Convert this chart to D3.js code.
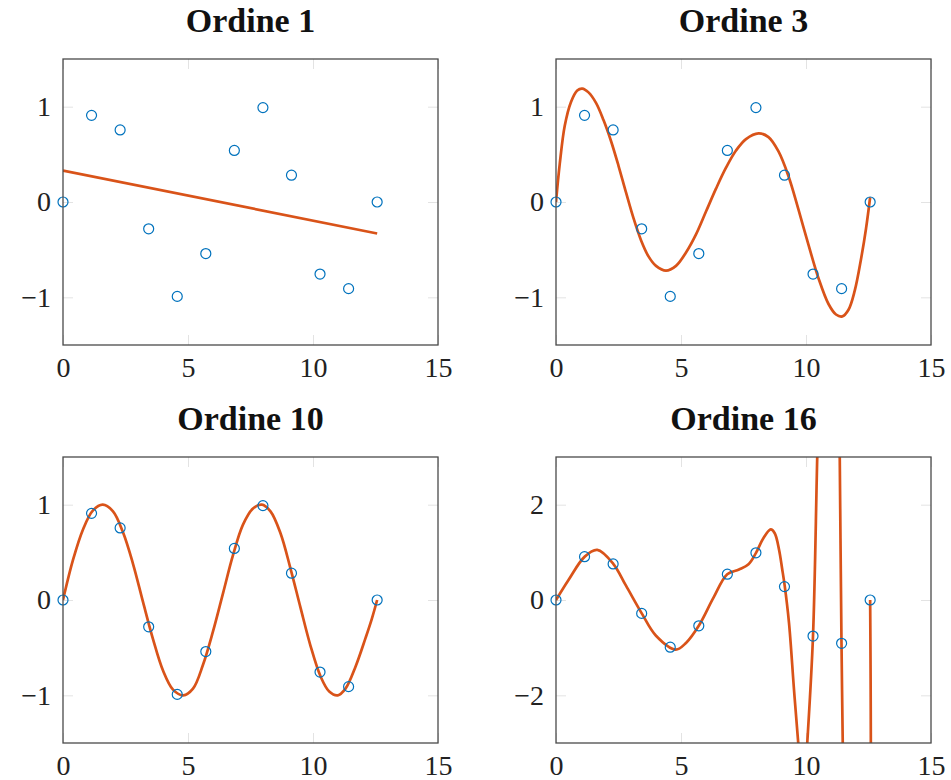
<!DOCTYPE html>
<html>
<head>
<meta charset="utf-8">
<script src="https://cdn.jsdelivr.net/npm/d3@7"></script>
<style>
  body { margin: 0; background: #fff; }
  svg { display: block; }
  .tick line { stroke: #e3e3e3; stroke-width: 1; }
  .tick text { font-family: "Liberation Serif", serif; font-size: 28px; fill: #222; }
  .title { font-family: "Liberation Serif", serif; font-weight: bold; font-size: 34px; fill: #111; }
  .frame { fill: none; stroke: #4a4a4a; stroke-width: 1.3; }
  .fit { fill: none; stroke: #D95319; stroke-width: 2.7; stroke-linejoin: round; }
  .pt { fill: none; stroke: #0072BD; stroke-width: 1.2; }
</style>
</head>
<body>
<svg id="chart" width="951" height="780"></svg>
<script>
// samples
const sampleX = [0, 1.142, 2.285, 3.427, 4.570, 5.712, 6.854, 7.997, 9.139, 10.281, 11.424, 12.566];
const sampleY = [0, 0.909, 0.756, -0.281, -0.990, -0.541, 0.541, 0.990, 0.281, -0.756, -0.909, 0];

// fitted curves
const fit1X = [0, 12.566];
const fit1Y = [0.33, -0.33];

const fit3X = [0, 0.15, 0.35, 0.6, 0.85, 1.05, 1.3, 1.6, 1.9, 2.2, 2.5, 2.8, 3.1, 3.4, 3.7, 4.0, 4.4, 4.8, 5.2, 5.6, 6.0, 6.4, 6.8, 7.2, 7.6, 8.1, 8.5, 8.9, 9.3, 9.7, 10.1, 10.5, 10.9, 11.2, 11.45, 11.7, 11.95, 12.2, 12.4, 12.566];
const fit3Y = [0, 0.4, 0.8, 1.05, 1.17, 1.19, 1.15, 1.04, 0.86, 0.64, 0.38, 0.1, -0.17, -0.4, -0.57, -0.67, -0.72, -0.67, -0.53, -0.34, -0.1, 0.14, 0.36, 0.54, 0.66, 0.72, 0.68, 0.53, 0.27, -0.08, -0.45, -0.8, -1.07, -1.18, -1.2, -1.13, -0.93, -0.6, -0.28, 0.05];

const fit10X = [0, 0.4, 0.8, 1.2, 1.59, 2.0, 2.4, 2.8, 3.2, 3.6, 4.0, 4.4, 4.81, 5.2, 5.6, 6.0, 6.4, 6.8, 7.2, 7.6, 7.95, 8.3, 8.7, 9.1, 9.5, 9.9, 10.3, 10.65, 10.99, 11.3, 11.7, 12.1, 12.35, 12.566];
const fit10Y = [0, 0.42, 0.74, 0.94, 1.0, 0.93, 0.71, 0.38, -0.02, -0.41, -0.74, -0.94, -1.0, -0.93, -0.68, -0.33, 0.07, 0.47, 0.79, 0.96, 1.0, 0.93, 0.7, 0.33, -0.08, -0.48, -0.8, -0.96, -1.0, -0.93, -0.7, -0.4, -0.2, 0];

const fit16X = [0, 0.5, 1.15, 1.65, 2.29, 2.8, 3.43, 4.0, 4.79, 5.2, 5.71, 6.3, 6.85, 7.32, 7.7, 8.0, 8.3, 8.59, 8.75, 8.92, 9.05, 9.15, 9.32, 9.52, 9.69, 9.8, 9.9, 10.0, 10.05, 10.28, 10.45, 10.6, 11.0, 11.3, 11.35, 11.42, 11.47, 11.6, 12.0, 12.5, 12.566];
const fit16Y = [0, 0.42, 0.91, 1.05, 0.76, 0.3, -0.28, -0.75, -1.04, -0.9, -0.54, 0.05, 0.54, 0.64, 0.75, 0.99, 1.3, 1.48, 1.4, 1.06, 0.64, 0.29, -0.48, -1.88, -3, -3.6, -3.8, -3.4, -3, -0.76, 3, 6, 9, 6, 3, -0.9, -3, -8, -12, -8, 0];

const titles = ["Ordine 1", "Ordine 3", "Ordine 10", "Ordine 16"];
const xTicks = [0, 5, 10, 15];
const yTicksSmall = [-1, 0, 1];
const yTicksLarge = [-2, 0, 2];
const yRangeSmall = [-1.5, 1.5];
const yRangeLarge = [-3, 3];

const panels = [
  { title: titles[0], fx: fit1X, fy: fit1Y, yd: yRangeSmall, yt: yTicksSmall, left: 63, top: 59 },
  { title: titles[1], fx: fit3X, fy: fit3Y, yd: yRangeSmall, yt: yTicksSmall, left: 556, top: 59 },
  { title: titles[2], fx: fit10X, fy: fit10Y, yd: yRangeSmall, yt: yTicksSmall, left: 63, top: 457 },
  { title: titles[3], fx: fit16X, fy: fit16Y, yd: yRangeLarge, yt: yTicksLarge, left: 556, top: 457 }
];

const pw = 375, ph = 286;
const svg = d3.select("#chart");
const fmt = d => d < 0 ? "\u2212" + Math.abs(d) : String(d);

panels.forEach((p, i) => {
  const x = d3.scaleLinear().domain([0, 15]).range([0, pw]);
  const y = d3.scaleLinear().domain(p.yd).range([ph, 0]);
  const g = svg.append("g").attr("transform", "translate(" + p.left + "," + p.top + ")");

  g.append("clipPath").attr("id", "clip" + i)
    .append("rect").attr("width", pw).attr("height", ph);

  // inner ticks on all four sides
  g.append("g").attr("transform", "translate(0," + ph + ")")
    .call(d3.axisBottom(x).tickValues(xTicks).tickFormat(fmt).tickSizeInner(-10).tickSizeOuter(0).tickPadding(12))
    .call(a => a.select(".domain").remove());
  g.append("g")
    .call(d3.axisTop(x).tickValues(xTicks).tickFormat("").tickSizeInner(-10).tickSizeOuter(0))
    .call(a => a.select(".domain").remove());
  g.append("g")
    .call(d3.axisLeft(y).tickValues(p.yt).tickFormat(fmt).tickSizeInner(-10).tickSizeOuter(0).tickPadding(12))
    .call(a => a.select(".domain").remove());
  g.append("g").attr("transform", "translate(" + pw + ",0)")
    .call(d3.axisRight(y).tickValues(p.yt).tickFormat("").tickSizeInner(-10).tickSizeOuter(0))
    .call(a => a.select(".domain").remove());

  const pts = p.fx.map((v, k) => [v, p.fy[k]]);
  const line = d3.line().x(d => x(d[0])).y(d => y(d[1]))
    .curve(pts.length > 2 ? d3.curveCatmullRom.alpha(0.5) : d3.curveLinear);

  g.append("path")
    .datum(pts)
    .attr("class", "fit")
    .attr("clip-path", "url(#clip" + i + ")")
    .attr("d", line);

  g.selectAll("circle")
    .data(sampleX)
    .enter()
    .append("circle")
    .attr("class", "pt")
    .attr("cx", d => x(d))
    .attr("cy", (d, k) => y(sampleY[k]))
    .attr("r", 5);

  g.append("rect").attr("class", "frame").attr("width", pw).attr("height", ph);

  g.append("text")
    .attr("class", "title")
    .attr("x", pw / 2)
    .attr("y", -27)
    .attr("text-anchor", "middle")
    .text(p.title);
});
</script>
</body>
</html>
